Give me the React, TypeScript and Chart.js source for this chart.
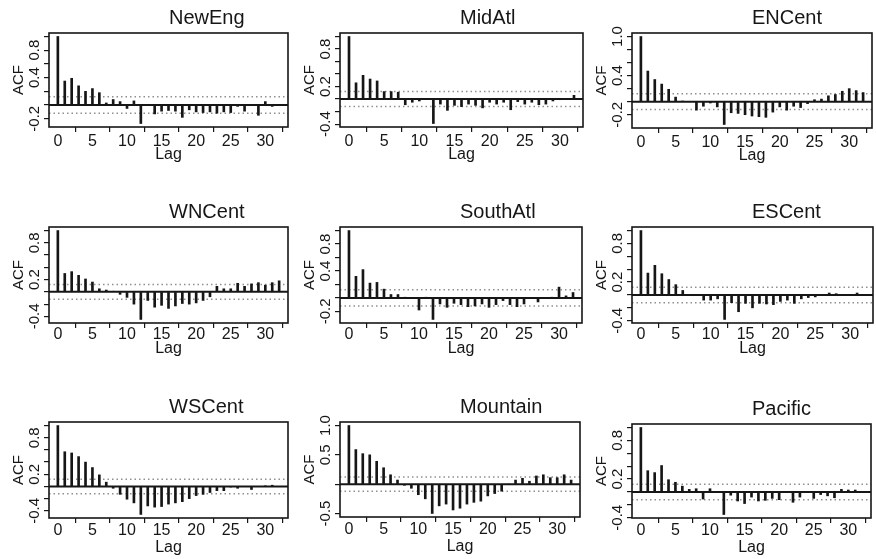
import React, { useEffect, useRef } from 'react';
import { Chart, registerables } from 'chart.js';

Chart.register(...registerables);

// ---------- data ----------
const LAGS = [0, 1, 2, 3, 4, 5, 6, 7, 8, 9, 10, 11, 12, 13, 14, 15, 16, 17, 18, 19, 20, 21, 22, 23, 24, 25, 26, 27, 28, 29, 30, 31, 32];

const NEWENG = [1.0, 0.35, 0.39, 0.28, 0.2, 0.24, 0.18, 0.03, 0.08, 0.05, -0.05, 0.06, -0.27, -0.01, -0.13, -0.09, -0.08, -0.09, -0.18, -0.07, -0.1, -0.11, -0.1, -0.12, -0.1, -0.11, -0.02, -0.09, -0.01, -0.15, 0.05, -0.02, -0.01];
const MIDATL = [1.0, 0.26, 0.38, 0.32, 0.29, 0.12, 0.12, 0.11, -0.09, -0.05, -0.03, 0.01, -0.39, -0.08, -0.18, -0.1, -0.12, -0.08, -0.1, -0.14, -0.05, -0.08, -0.05, -0.17, -0.04, -0.08, -0.05, -0.09, -0.08, -0.03, -0.01, 0.01, 0.06];
const ENCENT = [1.0, 0.47, 0.34, 0.27, 0.19, 0.07, 0.01, 0.0, -0.13, -0.07, -0.02, -0.08, -0.35, -0.17, -0.18, -0.2, -0.22, -0.23, -0.24, -0.16, -0.08, -0.13, -0.07, -0.09, -0.03, 0.03, 0.04, 0.09, 0.11, 0.16, 0.2, 0.17, 0.14];
const WNCENT = [1.0, 0.3, 0.33, 0.27, 0.21, 0.16, 0.05, 0.03, 0.01, -0.04, -0.09, -0.2, -0.45, -0.14, -0.25, -0.22, -0.27, -0.23, -0.19, -0.2, -0.18, -0.14, -0.08, 0.09, 0.05, 0.05, 0.14, 0.09, 0.13, 0.15, 0.11, 0.15, 0.18];
const SOUTHATL = [1.0, 0.32, 0.42, 0.22, 0.23, 0.13, 0.05, 0.05, 0.01, -0.01, -0.18, 0.01, -0.32, -0.09, -0.14, -0.08, -0.1, -0.13, -0.12, -0.09, -0.14, -0.1, -0.04, -0.1, -0.13, -0.09, -0.01, -0.06, 0.0, 0.01, 0.16, 0.03, 0.08];
const ESCENT = [1.0, 0.34, 0.46, 0.33, 0.24, 0.16, 0.07, 0.01, 0.0, -0.08, -0.08, -0.06, -0.38, -0.12, -0.26, -0.13, -0.2, -0.13, -0.14, -0.15, -0.1, -0.08, -0.13, -0.06, -0.04, -0.03, -0.01, 0.03, 0.02, 0.0, 0.01, 0.03, 0.0];
const WSCENT = [1.0, 0.57, 0.55, 0.49, 0.4, 0.31, 0.19, 0.07, -0.03, -0.13, -0.21, -0.27, -0.46, -0.32, -0.34, -0.33, -0.29, -0.27, -0.25, -0.2, -0.15, -0.13, -0.1, -0.07, -0.07, -0.01, -0.03, 0.0, -0.05, 0.0, 0.01, 0.02, 0.0];
const MOUNTAIN = [1.0, 0.59, 0.52, 0.5, 0.39, 0.28, 0.16, 0.07, -0.02, -0.07, -0.18, -0.25, -0.5, -0.37, -0.34, -0.44, -0.41, -0.34, -0.31, -0.29, -0.2, -0.16, -0.12, 0.0, 0.07, 0.1, 0.05, 0.14, 0.16, 0.11, 0.11, 0.16, 0.07];
const PACIFIC = [1.0, 0.33, 0.3, 0.41, 0.19, 0.15, 0.09, 0.04, 0.05, -0.11, 0.05, 0.0, -0.35, -0.05, -0.14, -0.18, -0.08, -0.14, -0.13, -0.1, -0.12, 0.0, -0.16, -0.08, -0.01, -0.1, -0.04, -0.06, -0.09, 0.04, 0.03, 0.03, 0.01];

const TITLES = ['NewEng', 'MidAtl', 'ENCent', 'WNCent', 'SouthAtl', 'ESCent', 'WSCent', 'Mountain', 'Pacific'];
const SERIES = [NEWENG, MIDATL, ENCENT, WNCENT, SOUTHATL, ESCENT, WSCENT, MOUNTAIN, PACIFIC];

const CI = 0.12;

const X_TICKS = [0, 5, 10, 15, 20, 25, 30];
const Y_TICKS_A = [-0.2, 0, 0.2, 0.4, 0.6, 0.8, 1.0];
const Y_TICKS_B = [-0.4, -0.2, 0, 0.2, 0.4, 0.6, 0.8, 1.0];
const Y_TICKS_C = [-0.5, 0, 0.5, 1.0];
const Y_TICKS = [Y_TICKS_A, Y_TICKS_B, Y_TICKS_A, Y_TICKS_B, Y_TICKS_A, Y_TICKS_B, Y_TICKS_B, Y_TICKS_C, Y_TICKS_B];

const LABELS_A = ['-0.2', '0.4', '0.8'];
const LABELS_B = ['-0.4', '0.2', '0.8'];
const LABELS_E = ['-0.2', '0.4', '1.0'];
const LABELS_M = ['-0.5', '0.5', '1.0'];
const Y_LABELS = [LABELS_A, LABELS_B, LABELS_E, LABELS_B, LABELS_A, LABELS_B, LABELS_B, LABELS_M, LABELS_B];

// ---------- layout (plot box in page pixels: left, top, right, bottom) ----------
const BOXES = [
  [49, 33, 288, 127], [340, 33, 583, 127], [632, 33, 872, 128],
  [49, 227, 288, 323], [340, 227, 582, 323], [632, 227, 873, 323],
  [49, 422, 288, 518], [340, 422, 580, 517], [632, 424, 871, 518],
];
const X_AXIS_H = [37, 37, 37, 35, 35, 35, 39, 39, 39];
const X_TICK_PAD = [0, 0, 0, -3, -3, -3, -2, -2, -2];

const FONT = '"Liberation Sans", Arial, Helvetica, sans-serif';
const INK = '#161616';
const PAD_TOP = 33;
const PAD_L = 10;
const Y_W = 39;
const PAD_R = 3;

const acfDecor = {
  id: 'acfDecor',
  beforeDatasetsDraw(chart: any, _a: any, opts: any) {
    const { ctx, chartArea: a, scales } = chart;
    const y = scales.y;
    ctx.save();
    ctx.strokeStyle = '#8f8f8f';
    ctx.lineWidth = 1.5;
    ctx.setLineDash([1.5, 3]);
    for (const v of [opts.ci, -opts.ci]) {
      const py = y.getPixelForValue(v);
      ctx.beginPath();
      ctx.moveTo(a.left, py);
      ctx.lineTo(a.right, py);
      ctx.stroke();
    }
    ctx.restore();
  },
  afterDatasetsDraw(chart: any, _a: any, opts: any) {
    const { ctx, chartArea: a, scales } = chart;
    const y0 = scales.y.getPixelForValue(0);
    ctx.save();
    ctx.strokeStyle = INK;
    ctx.lineWidth = 2;
    ctx.beginPath();
    ctx.moveTo(a.left, y0);
    ctx.lineTo(a.right, y0);
    ctx.stroke();
    ctx.lineWidth = 1.6;
    ctx.strokeRect(a.left, a.top, a.right - a.left, a.bottom - a.top);
    ctx.fillStyle = INK;
    ctx.font = '20px ' + FONT;
    ctx.textAlign = 'left';
    ctx.textBaseline = 'alphabetic';
    ctx.fillText(opts.title, a.left + 120, a.top - 9);
    ctx.restore();
  },
};

function AcfPanel({ index }: { index: number }) {
  const ref = useRef<HTMLCanvasElement>(null);
  const [L, T, R, B] = BOXES[index];
  const xh = X_AXIS_H[index];
  const width = R - L + PAD_L + Y_W + PAD_R;
  const height = PAD_TOP + (B - T) + xh;

  useEffect(() => {
    const vals = SERIES[index];
    const lo = Math.min(...vals, -CI);
    const hi = Math.max(...vals, CI);
    const yext = (hi - lo) * 0.04;
    const lagLo = LAGS[0];
    const lagHi = LAGS[LAGS.length - 1];
    const xext = (lagHi - lagLo) * 0.04;
    const yTicks = Y_TICKS[index];
    const yLabels = Y_LABELS[index];

    const chart = new Chart(ref.current as HTMLCanvasElement, {
      type: 'bar',
      data: {
        datasets: [
          {
            data: LAGS.map((l, i) => ({ x: l, y: vals[i] })),
            backgroundColor: INK,
            borderWidth: 0,
            barThickness: 2,
          } as any,
        ],
      },
      plugins: [acfDecor],
      options: {
        animation: false,
        responsive: false,
        maintainAspectRatio: false,
        devicePixelRatio: 1,
        layout: { padding: { top: PAD_TOP, left: PAD_L, right: PAD_R, bottom: 0 } },
        plugins: {
          legend: { display: false },
          tooltip: { enabled: false },
          title: { display: false },
          acfDecor: { title: TITLES[index], ci: CI },
        } as any,
        scales: {
          x: {
            type: 'linear',
            min: lagLo - xext,
            max: lagHi + xext,
            offset: false,
            afterBuildTicks: (s: any) => {
              s.ticks = X_TICKS.map((v) => ({ value: v }));
            },
            afterFit: (s: any) => {
              s.height = xh;
            },
            grid: { display: true, drawOnChartArea: false, drawTicks: true, tickLength: 5, color: INK, lineWidth: 1.2 },
            border: { display: false },
            ticks: {
              autoSkip: false,
              maxRotation: 0,
              padding: X_TICK_PAD[index],
              color: INK,
              font: { family: FONT, size: 16 },
              callback: (v: any) => String(v),
            },
            title: { display: true, text: 'Lag', color: INK, padding: 0, font: { family: FONT, size: 16 } },
          },
          y: {
            type: 'linear',
            min: lo - yext,
            max: hi + yext,
            afterBuildTicks: (s: any) => {
              s.ticks = yTicks.map((v) => ({ value: v }));
            },
            afterFit: (s: any) => {
              s.width = Y_W;
            },
            grid: { display: true, drawOnChartArea: false, drawTicks: true, tickLength: 5, color: INK, lineWidth: 1.2 },
            border: { display: false },
            ticks: {
              autoSkip: false,
              minRotation: 90,
              maxRotation: 90,
              crossAlign: 'center',
              padding: -4,
              color: INK,
              font: { family: FONT, size: 15 },
              callback: (v: any) => {
                const s = yLabels.find((t) => Math.abs(parseFloat(t) - Number(v)) < 1e-6);
                return s ?? '';
              },
            },
            title: { display: true, text: 'ACF', color: INK, padding: 0, font: { family: FONT, size: 15 } },
          },
        },
      } as any,
    });
    return () => chart.destroy();
  }, [index]);

  return (
    <canvas
      ref={ref}
      width={width}
      height={height}
      style={{ position: 'absolute', left: L - PAD_L - Y_W, top: T - PAD_TOP, width, height }}
    />
  );
}

export default function App() {
  return (
    <div style={{ position: 'fixed', left: 0, top: 0, width: 876, height: 559, background: '#fff', overflow: 'hidden' }}>
      {TITLES.map((_, i) => (
        <AcfPanel key={i} index={i} />
      ))}
    </div>
  );
}
